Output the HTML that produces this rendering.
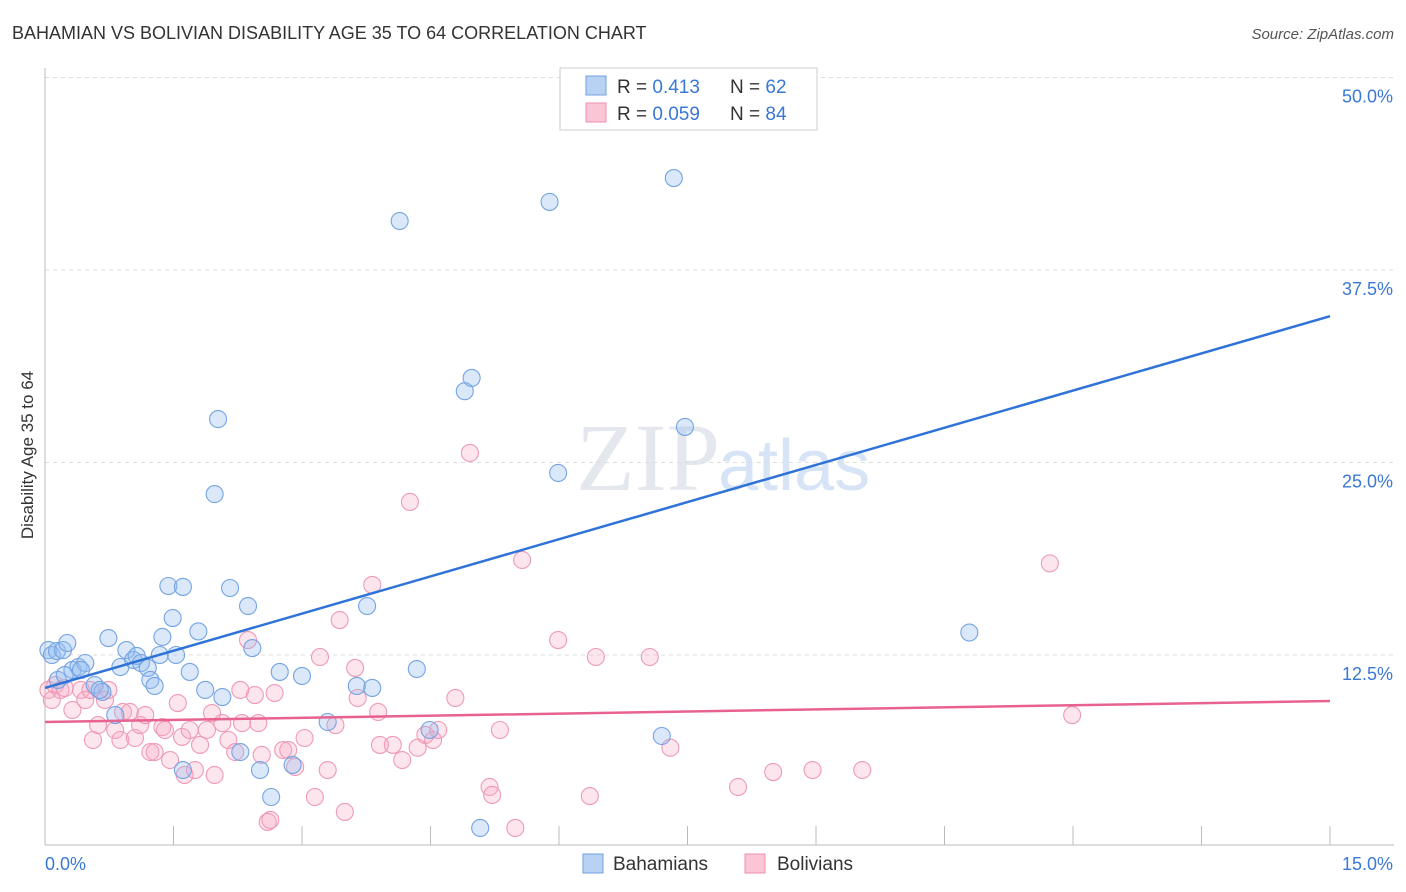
<!DOCTYPE html>
<html><head><meta charset="utf-8"><style>
body{margin:0;background:#fff;font-family:"Liberation Sans",sans-serif}
svg{display:block}
</style></head><body>
<svg id="chart" width="1406" height="892">
<text x="12" y="39" font-size="18" fill="#333">BAHAMIAN VS BOLIVIAN DISABILITY AGE 35 TO 64 CORRELATION CHART</text>
<text x="1394" y="39" font-size="15" fill="#555" font-style="italic" text-anchor="end">Source: ZipAtlas.com</text>
<text x="720" y="490" font-size="96" fill="#e4e8ee" text-anchor="end" font-family="Liberation Serif,serif">ZIP</text>
<text x="718" y="490" font-size="72" fill="#d6e4f5">atlas</text>
<text transform="translate(33,455) rotate(-90)" font-size="17" fill="#333" text-anchor="middle">Disability Age 35 to 64</text>
<g id="grid"></g><g id="pts"></g><g id="lines"></g>
<g>
<rect x="560" y="68" width="257" height="62" fill="#fff" stroke="#ccc"/>
<rect x="586" y="76" width="20" height="19" fill="#b8d2f3" stroke="#6fa0e0"/>
<rect x="586" y="103" width="20" height="19" fill="#fac5d5" stroke="#ec8fae"/>
<text x="617" y="93" font-size="19" fill="#333">R = <tspan fill="#3a78d4">0.413</tspan></text>
<text x="730" y="93" font-size="19" fill="#333">N = <tspan fill="#3a78d4">62</tspan></text>
<text x="617" y="120" font-size="19" fill="#333">R = <tspan fill="#3a78d4">0.059</tspan></text>
<text x="730" y="120" font-size="19" fill="#333">N = <tspan fill="#3a78d4">84</tspan></text>
</g>
<g>
<rect x="583" y="854" width="20" height="19" fill="#b8d2f3" stroke="#6fa0e0"/>
<text x="613" y="870" font-size="19" fill="#333">Bahamians</text>
<rect x="745" y="854" width="20" height="19" fill="#fac5d5" stroke="#ec8fae"/>
<text x="777" y="870" font-size="19" fill="#333">Bolivians</text>
</g>
</svg>
<script>
const yTicks=[12.5,25,37.5,50];
const yTickLabels=["12.5%","25.0%","37.5%","50.0%"];
const xTickLabels=["0.0%","15.0%"];
const bahamians=[[0.04,12.82],[0.08,12.50],[0.14,12.76],[0.21,12.82],[0.26,13.28],[0.32,11.53],[0.39,11.72],[0.47,11.98],[0.42,11.53],[0.58,10.55],[0.67,10.10],[0.74,13.60],[0.88,11.72],[0.95,12.82],[1.03,12.18],[1.07,12.44],[1.12,11.98],[1.20,11.66],[1.23,10.88],[1.28,10.49],[1.34,12.50],[1.37,13.67],[1.44,16.98],[1.49,14.90],[1.53,12.50],[1.61,16.92],[1.69,11.40],[1.79,14.03],[1.87,10.23],[1.98,22.95],[2.02,27.82],[2.07,9.77],[2.16,16.85],[2.28,6.20],[2.37,15.68],[2.42,12.95],[2.51,5.03],[2.64,3.28],[2.74,11.40],[2.89,5.36],[3.00,11.14],[3.30,8.15],[3.64,10.49],[3.76,15.68],[3.82,10.36],[4.14,40.68],[4.34,11.59],[4.49,7.63],[4.90,29.63],[4.98,30.49],[5.08,1.27],[5.89,41.92],[5.99,24.32],[7.20,7.24],[7.34,43.47],[7.47,27.31],[10.79,13.96],[1.61,5.03],[0.82,8.60],[0.64,10.23],[0.15,10.88],[0.23,11.20]];
const bolivians=[[0.04,10.23],[0.08,9.58],[0.12,10.55],[0.18,10.23],[0.23,10.36],[0.32,8.93],[0.42,10.23],[0.47,9.58],[0.53,10.23],[0.56,6.98],[0.62,7.95],[0.70,9.58],[0.74,10.23],[0.82,7.63],[0.88,6.98],[0.91,8.80],[0.99,8.80],[1.05,7.11],[1.11,7.95],[1.17,8.60],[1.23,6.20],[1.28,6.20],[1.37,7.82],[1.40,7.63],[1.46,5.68],[1.55,9.38],[1.60,7.18],[1.63,4.71],[1.69,7.63],[1.75,5.03],[1.81,6.66],[1.89,7.63],[1.95,8.73],[1.98,4.71],[2.07,8.08],[2.14,6.98],[2.22,6.20],[2.28,10.23],[2.30,8.08],[2.37,13.47],[2.45,9.90],[2.49,8.08],[2.53,6.01],[2.60,1.66],[2.63,1.79],[2.68,10.03],[2.78,6.33],[2.84,6.33],[2.92,5.23],[3.03,7.11],[3.15,3.28],[3.21,12.37],[3.30,5.03],[3.39,7.95],[3.44,14.77],[3.50,2.31],[3.62,11.66],[3.65,9.71],[3.82,17.05],[3.89,8.80],[3.91,6.66],[4.06,6.66],[4.17,5.68],[4.26,22.44],[4.35,6.48],[4.44,7.31],[4.53,6.98],[4.59,7.63],[4.79,9.71],[4.96,25.62],[5.19,3.93],[5.22,3.41],[5.31,7.63],[5.49,1.27],[5.57,18.67],[5.99,13.47],[6.36,3.34],[6.43,12.37],[7.06,12.37],[7.30,6.48],[8.09,3.93],[8.50,4.90],[8.96,5.03],[9.54,5.03],[11.73,18.45],[11.99,8.60]];
const blueTrend=[10.36,34.5];
const pinkTrend=[8.15,9.51];
const NS="http://www.w3.org/2000/svg";
const X0=45,X1=1330,Y0=847.5,PPY=15.4;
const xs=v=>X0+(X1-X0)*v/15;
const ys=v=>Y0-v*PPY;
function mk(tag,attrs,parent){const e=document.createElementNS(NS,tag);for(const k in attrs)e.setAttribute(k,attrs[k]);parent.appendChild(e);return e;}
const grid=document.getElementById('grid');
yTicks.forEach((t,i)=>{
 const l=mk('line',{x1:45,x2:1394,y1:ys(t),y2:ys(t),stroke:'#ddd','stroke-dasharray':'4,4'},grid);
 
 
 const tx=mk('text',{x:1393,y:ys(t)+25,'font-size':18,fill:'#3a78d4','text-anchor':'end'},grid);
 tx.textContent=yTickLabels[i];
 
 
});
const ax=mk('line',{x1:45,x2:1394,y1:845,y2:845,stroke:'#bbb'},grid);


const ay=mk('line',{x1:45,x2:45,y1:68,y2:845,stroke:'#bbb'},grid);


for(let i=1;i<=10;i++){const xv=i*1.5;const t=mk('line',{x1:xs(xv),x2:xs(xv),y1:826,y2:845,stroke:'#bbb'},grid);
 
 }
[[0,'start',45],[1,'end',1393]].forEach(([i,a,x])=>{const t=mk('text',{x:x,y:870,'font-size':18,fill:'#3a78d4','text-anchor':a},grid);t.textContent=xTickLabels[i];
 
 });
const pts=document.getElementById('pts');
bolivians.forEach(p=>{const c=mk('circle',{cx:xs(p[0]),cy:ys(p[1]),r:8.5,fill:'rgba(248,170,195,0.3)',stroke:'#ee9ab6','stroke-width':1.1},pts);
 
 });
bahamians.forEach(p=>{const c=mk('circle',{cx:xs(p[0]),cy:ys(p[1]),r:8.5,fill:'rgba(150,190,240,0.35)',stroke:'#74a4e2','stroke-width':1.1},pts);
 
 });
const lines=document.getElementById('lines');
const bl=mk('line',{x1:xs(0),y1:ys(blueTrend[0]),x2:xs(15),y2:ys(blueTrend[1]),stroke:'#2f73d8','stroke-width':2.5},lines);


const pl=mk('line',{x1:xs(0),y1:ys(pinkTrend[0]),x2:xs(15),y2:ys(pinkTrend[1]),stroke:'#e8628f','stroke-width':2.5},lines);


</script>
</body></html>
